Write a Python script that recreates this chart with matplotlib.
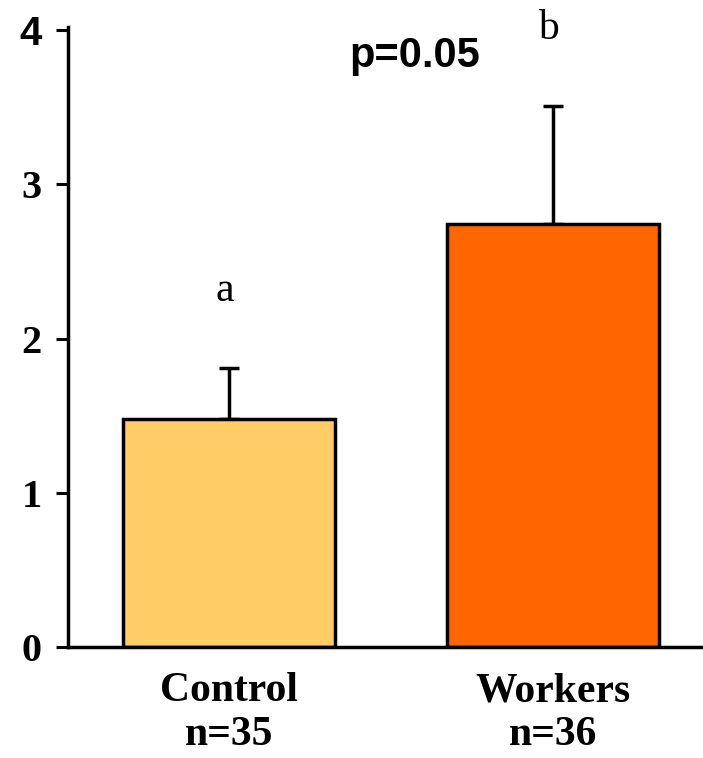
import matplotlib
matplotlib.use("Agg")
import matplotlib.pyplot as plt
import numpy as np

groups = ["Control\nn=35", "Workers\nn=36"]
means = [1.48, 2.74]
errs = [0.33, 0.77]
letters = ["a", "b"]
colors = ["#FFCC66", "#FF6600"]
yticks = [0, 1, 2, 3, 4]
pos = [0.76, 2.29]

fig = plt.figure(figsize=(7.03, 7.58), dpi=100)
ax = fig.add_axes([0.0967, 0.1464, 0.9033, 0.818])

ax.errorbar(pos, means, yerr=[np.zeros(2), errs], fmt="none", ecolor="k",
            elinewidth=2.5, capsize=7, capthick=2.5, zorder=1)
ax.bar(pos, means, width=1.0, color=colors, edgecolor="k", linewidth=2.5, zorder=2)

for x, m, e, l in zip(pos, means, errs, letters):
    ax.text(x - 0.02, m + e + 0.5, l, ha="center", va="center",
            family="Liberation Serif", fontsize=30)

ax.text(1.64, 3.83, "p=0.05", ha="center", va="center",
        family="Liberation Sans", fontweight="bold", fontsize=30)

ax.set_xlim(0, 3)
ax.set_ylim(0, 4.02)
ax.set_yticks(yticks)
ax.set_yticklabels([str(t) for t in yticks], family="Liberation Serif",
                   fontweight="bold", fontsize=29)
ax.get_yticklabels()[-1].set_family("Liberation Sans")
ax.set_xticks(pos)
ax.set_xticklabels(groups, family="Liberation Serif", fontweight="bold",
                   fontsize=30, linespacing=1.2)
ax.tick_params(axis="x", length=0, pad=18)
ax.tick_params(axis="y", length=9, width=2.2, pad=10)

for s in ["top", "right"]:
    ax.spines[s].set_visible(False)
ax.spines["left"].set_linewidth(2.5)
ax.spines["bottom"].set_linewidth(2.5)

fig.savefig("out.png", dpi=100)
